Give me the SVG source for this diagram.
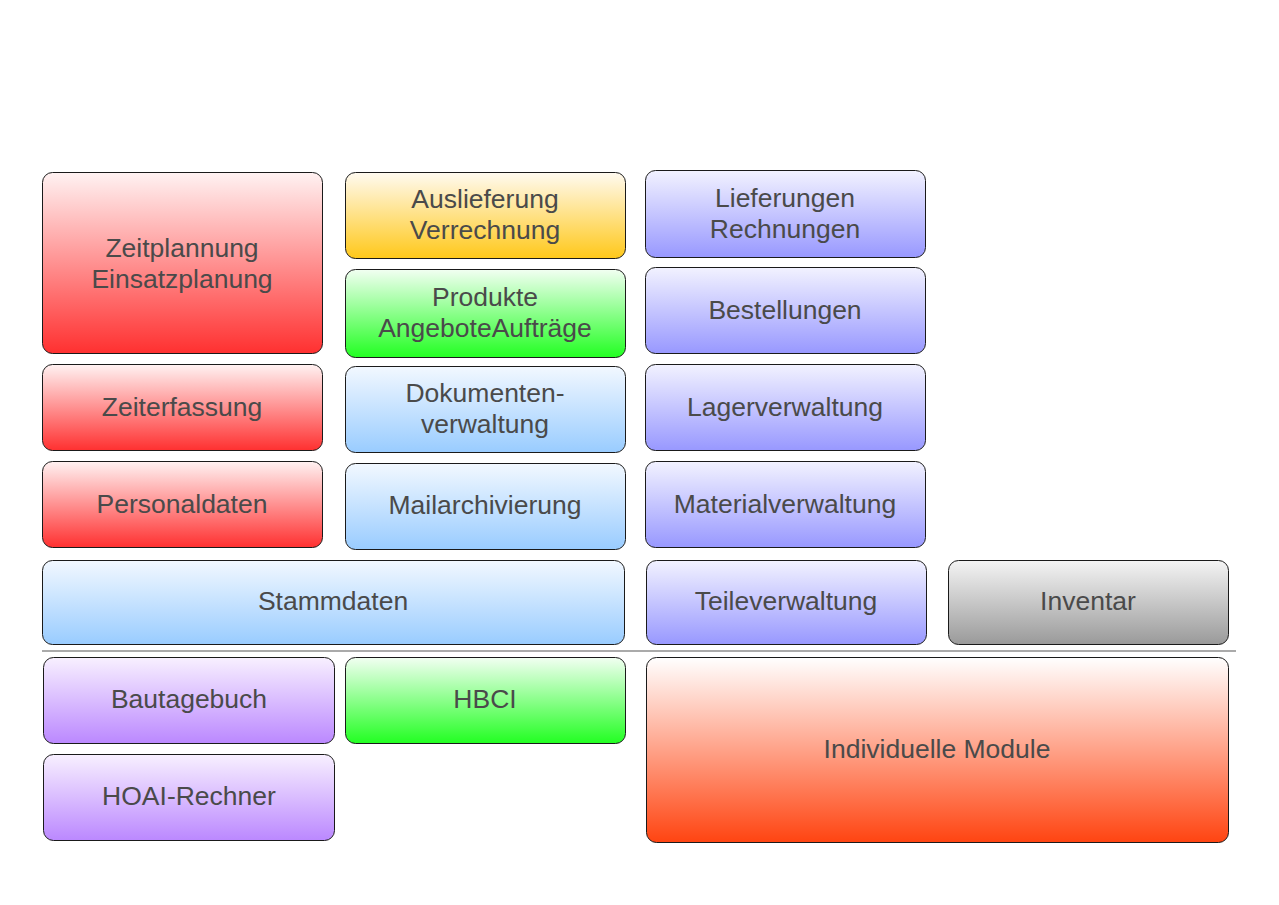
<svg xmlns="http://www.w3.org/2000/svg" width="1279" height="905" viewBox="0 0 1279 905">
<style>
  .box { stroke: #1a1a1a; stroke-width: 1; }
  .lbl { font-family: "Liberation Sans", Arial, sans-serif; font-size: 26.5px; fill: #4a4a4a; text-anchor: middle; }
</style>
<defs>
  <linearGradient id="gRed" x1="0" y1="0" x2="0" y2="1"><stop offset="0" stop-color="#fff2f2"/><stop offset="1" stop-color="#ff3030"/></linearGradient>
  <linearGradient id="gYel" x1="0" y1="0" x2="0" y2="1"><stop offset="0" stop-color="#fffaf0"/><stop offset="1" stop-color="#ffc81a"/></linearGradient>
  <linearGradient id="gGrn" x1="0" y1="0" x2="0" y2="1"><stop offset="0" stop-color="#f2fff2"/><stop offset="1" stop-color="#22ff22"/></linearGradient>
  <linearGradient id="gLb" x1="0" y1="0" x2="0" y2="1"><stop offset="0" stop-color="#f2f8ff"/><stop offset="1" stop-color="#99ccff"/></linearGradient>
  <linearGradient id="gBl" x1="0" y1="0" x2="0" y2="1"><stop offset="0" stop-color="#f2f2ff"/><stop offset="1" stop-color="#9898ff"/></linearGradient>
  <linearGradient id="gGy" x1="0" y1="0" x2="0" y2="1"><stop offset="0" stop-color="#f4f4f4"/><stop offset="1" stop-color="#9a9a9a"/></linearGradient>
  <linearGradient id="gVi" x1="0" y1="0" x2="0" y2="1"><stop offset="0" stop-color="#f8f0ff"/><stop offset="1" stop-color="#bb88ff"/></linearGradient>
  <linearGradient id="gOr" x1="0" y1="0" x2="0" y2="1"><stop offset="0" stop-color="#ffffff"/><stop offset="1" stop-color="#ff4411"/></linearGradient>
</defs>
<rect width="1279" height="905" fill="#ffffff"/>

<g id="connectors">
  <line x1="42" y1="651" x2="1236" y2="651" stroke="#aaaaaa" stroke-width="2"/>
</g>

<g id="zeitplannung"><rect class="box" x="42.5" y="172.5" width="280" height="181" rx="10" fill="url(#gRed)"/>
  <text class="lbl" x="182" y="257">Zeitplannung</text><text class="lbl" x="182" y="288">Einsatzplanung</text></g>
<g id="zeiterfassung"><rect class="box" x="42.5" y="364.5" width="280" height="86" rx="10" fill="url(#gRed)"/>
  <text class="lbl" x="182" y="416">Zeiterfassung</text></g>
<g id="personaldaten"><rect class="box" x="42.5" y="461.5" width="280" height="86" rx="10" fill="url(#gRed)"/>
  <text class="lbl" x="182" y="513">Personaldaten</text></g>
<g id="stammdaten"><rect class="box" x="42.5" y="560.5" width="582" height="84" rx="10" fill="url(#gLb)"/>
  <text class="lbl" x="333" y="610">Stammdaten</text></g>

<g id="auslieferung"><rect class="box" x="345.5" y="172.5" width="280" height="86" rx="10" fill="url(#gYel)"/>
  <text class="lbl" x="485" y="208">Auslieferung</text><text class="lbl" x="485" y="239">Verrechnung</text></g>
<g id="produkte"><rect class="box" x="345.5" y="269.5" width="280" height="88" rx="10" fill="url(#gGrn)"/>
  <text class="lbl" x="485" y="306">Produkte</text><text class="lbl" x="485" y="337">AngeboteAufträge</text></g>
<g id="dokumentenverwaltung"><rect class="box" x="345.5" y="366.5" width="280" height="86" rx="10" fill="url(#gLb)"/>
  <text class="lbl" x="485" y="402">Dokumenten-</text><text class="lbl" x="485" y="433">verwaltung</text></g>
<g id="mailarchivierung"><rect class="box" x="345.5" y="463.5" width="280" height="86" rx="10" fill="url(#gLb)"/>
  <text class="lbl" x="485" y="514">Mailarchivierung</text></g>

<g id="lieferungen"><rect class="box" x="645.5" y="170.5" width="280" height="87" rx="10" fill="url(#gBl)"/>
  <text class="lbl" x="785" y="207">Lieferungen</text><text class="lbl" x="785" y="238">Rechnungen</text></g>
<g id="bestellungen"><rect class="box" x="645.5" y="267.5" width="280" height="86" rx="10" fill="url(#gBl)"/>
  <text class="lbl" x="785" y="319">Bestellungen</text></g>
<g id="lagerverwaltung"><rect class="box" x="645.5" y="364.5" width="280" height="86" rx="10" fill="url(#gBl)"/>
  <text class="lbl" x="785" y="416">Lagerverwaltung</text></g>
<g id="materialverwaltung"><rect class="box" x="645.5" y="461.5" width="280" height="86" rx="10" fill="url(#gBl)"/>
  <text class="lbl" x="785" y="513">Materialverwaltung</text></g>
<g id="teileverwaltung"><rect class="box" x="646.5" y="560.5" width="280" height="84" rx="10" fill="url(#gBl)"/>
  <text class="lbl" x="786" y="610">Teileverwaltung</text></g>
<g id="inventar"><rect class="box" x="948.5" y="560.5" width="280" height="84" rx="10" fill="url(#gGy)"/>
  <text class="lbl" x="1088" y="610">Inventar</text></g>

<g id="bautagebuch"><rect class="box" x="43.5" y="657.5" width="291" height="86" rx="10" fill="url(#gVi)"/>
  <text class="lbl" x="189" y="708">Bautagebuch</text></g>
<g id="hoai-rechner"><rect class="box" x="43.5" y="754.5" width="291" height="86" rx="10" fill="url(#gVi)"/>
  <text class="lbl" x="189" y="805">HOAI-Rechner</text></g>
<g id="hbci"><rect class="box" x="345.5" y="657.5" width="280" height="86" rx="10" fill="url(#gGrn)"/>
  <text class="lbl" x="485" y="708">HBCI</text></g>
<g id="individuelle-module"><rect class="box" x="646.5" y="657.5" width="582" height="185" rx="10" fill="url(#gOr)"/>
  <text class="lbl" x="937" y="758">Individuelle Module</text></g>
</svg>
